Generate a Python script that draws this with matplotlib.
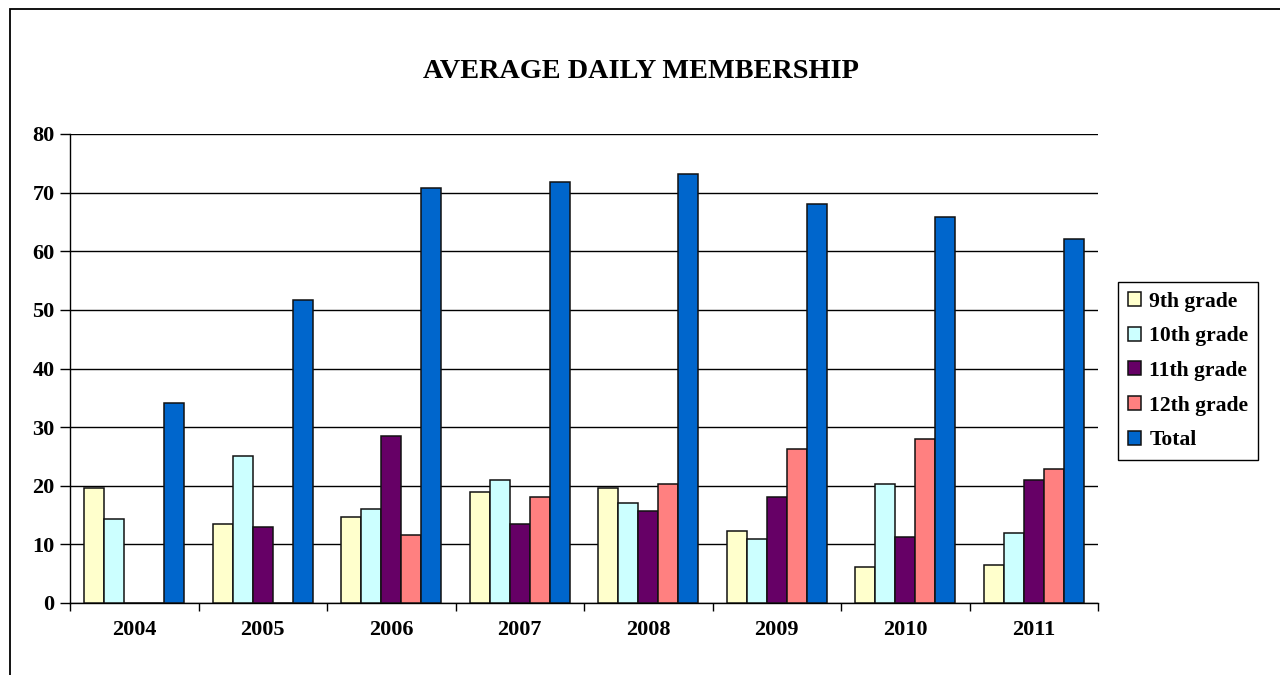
import matplotlib
matplotlib.use("Agg")
import matplotlib.pyplot as plt
import numpy as np
from matplotlib.patches import Rectangle

years = ["2004", "2005", "2006", "2007", "2008", "2009", "2010", "2011"]
series_names = ["9th grade", "10th grade", "11th grade", "12th grade", "Total"]
grade9 = [19.6, 13.5, 14.6, 19.0, 19.6, 12.2, 6.1, 6.4]
grade10 = [14.3, 25.0, 16.0, 20.9, 17.1, 11.0, 20.3, 11.9]
grade11 = [0, 13.0, 28.5, 13.5, 15.7, 18.1, 11.3, 20.9]
grade12 = [0, 0, 11.6, 18.1, 20.3, 26.3, 28.0, 22.9]
total = [34.2, 51.6, 70.8, 71.8, 73.2, 68.1, 65.9, 62.1]
colors = ["#FFFFCC", "#CCFFFF", "#660066", "#FF8080", "#0066CC"]
yticks = [0, 10, 20, 30, 40, 50, 60, 70, 80]

plt.rcParams['font.family'] = ['Liberation Serif', 'DejaVu Serif']
plt.rcParams['font.weight'] = 'bold'

fig = plt.figure(figsize=(12.8, 6.75), dpi=100)
ax = fig.add_axes([70/1280, 1-603/675, (1098-70)/1280, (603-134)/675])

data = [grade9, grade10, grade11, grade12, total]
x = np.arange(len(years))
w = 0.155
for i, (vals, c, name) in enumerate(zip(data, colors, series_names)):
    ax.bar(x + (i - 2) * w, vals, width=w, color=c, edgecolor='#111111',
           linewidth=1.1, label=name, zorder=3)

ax.set_xlim(-0.5, len(years) - 0.5)
ax.set_ylim(0, 80)
ax.set_yticks(yticks)
ax.set_yticklabels([str(v) for v in yticks], fontsize=16, fontweight='bold')
ax.yaxis.grid(True, color='black', linewidth=1.0, zorder=0)
ax.set_axisbelow(True)

ax.set_xticks(np.arange(len(years) + 1) - 0.5)
ax.set_xticklabels([])
ax.set_xticks(x, minor=True)
ax.set_xticklabels(years, minor=True, fontsize=16, fontweight='bold')
ax.tick_params(axis='x', which='major', length=6, width=1, direction='out', color='black')
ax.tick_params(axis='x', which='minor', length=0, pad=12)
ax.tick_params(axis='y', length=7, width=1, direction='out', pad=4)

for s in ['top', 'right']:
    ax.spines[s].set_visible(False)
for s in ['left', 'bottom']:
    ax.spines[s].set_linewidth(1.0)
    ax.spines[s].set_color('black')

fig.text(641/1280, 1-72/675, "AVERAGE DAILY MEMBERSHIP", ha='center', va='center',
         fontsize=20.3, fontweight='bold')

leg = fig.legend(loc='upper left', bbox_to_anchor=(1118/1280, 1-282/675),
                 bbox_transform=fig.transFigure, borderaxespad=0,
                 prop={'family': 'Liberation Serif', 'weight': 'bold', 'size': 15.6},
                 handlelength=0.6, handleheight=0.6, handletextpad=0.4,
                 labelspacing=0.68, borderpad=0.44, fancybox=False,
                 edgecolor='black', framealpha=1)
leg.get_frame().set_linewidth(1.0)

fig.patches.append(Rectangle((10/1280, -0.05), 1.1, 1 - 9/675 + 0.05,
                             transform=fig.transFigure, fill=False,
                             edgecolor='black', linewidth=1.3))

fig.savefig("out.png", dpi=100)
